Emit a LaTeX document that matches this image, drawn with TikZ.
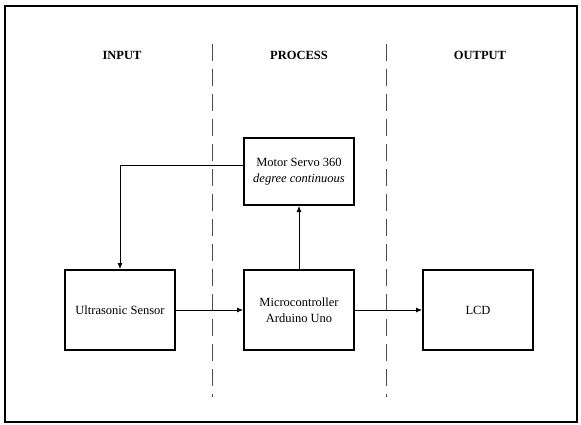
\documentclass[tikz,border=0pt]{standalone}
\usepackage{fontspec}
\setmainfont{Liberation Serif}
\usetikzlibrary{positioning, arrows.meta}

\begin{document}
\begin{tikzpicture}[
		x=1pt, y=-1pt,
		node distance=63pt and 67pt,
		block/.style={draw, rectangle, line width=2pt, minimum width=110pt, minimum height=80pt, align=center, font=\fontsize{12.5}{16}\selectfont},
		header/.style={font=\bfseries\fontsize{12.5}{16}\selectfont},
		arrow/.style={-{Latex[length=6pt, width=5pt]}, line width=0.8pt},
		divider/.style={dash pattern=on 17pt off 8pt, line width=0.6pt, black!70}
		]
		\useasboundingbox (0,0) rectangle (581,425);
		% outer frame
		\draw[line width=1.6pt] (5,6) rectangle (577,422);
		
		% column headers
		\node[header] (hin) at (122,55) {INPUT};
		\node[header] (hproc) at (299,55) {PROCESS};
		\node[header] (hout) at (480,55) {OUTPUT};
		
		% dividers
		\draw[divider] (212,44) -- (212,397);
		\draw[divider] (386,44) -- (386,397);
		
		% blocks
		\node[block] (micro) at (299,310) {Microcontroller\\Arduino Uno};
		\node[block, left=of micro] (sensor) {Ultrasonic Sensor};
		\node[block, right=of micro] (lcd) {LCD};
		\node[block, above=of micro, minimum height=67pt] (servo) {Motor Servo 360\\\textit{degree continuous}};
		
		\draw[arrow] (sensor) -- (micro);
		\draw[arrow] (micro) -- (lcd);
		\draw[arrow] (micro) -- (servo);
		\draw[arrow] ([yshift=6.5pt]servo.west) -| (sensor.north);
		
	\end{tikzpicture}
\end{document}
